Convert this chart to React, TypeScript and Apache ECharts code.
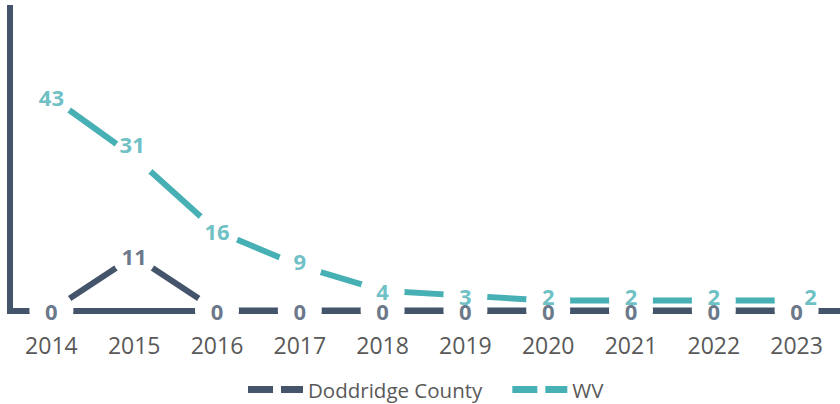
import React, { useEffect, useRef } from "react";
import * as echarts from "echarts";

const years = ["2014", "2015", "2016", "2017", "2018", "2019", "2020", "2021", "2022", "2023"];
const doddridge = [0, 11, 0, 0, 0, 0, 0, 0, 0, 0];
const wv = [43, 31, 16, 9, 4, 3, 2, 2, 2, 2];
const seriesNames = ["Doddridge County", "WV"];

// label nudges (pixels), as in the reference
const wvLabelOffsets = [[0, 0], [-2, -13], [0, 0], [0, -5], [0, 0], [0, 0], [0, -5], [0, -5], [0, -5], [14, -5]];
const ddLabelOffsets = [[0, 0], [0, 0], [0, 0], [0, 0], [0, 0], [0, 0], [0, 0], [0, 0], [0, 0], [0, 0]];

const DARK = "#44546A";
const TEAL = "#47B0B5";
const GREY = "#595959";
const FONT = "'Open Sans', 'Noto Sans', sans-serif";

function lineSeries(name: string, data: number[], color: string) {
  return {
    name,
    type: "line",
    data,
    z: 2,
    color,
    symbol: "circle",
    symbolSize: 44,
    showSymbol: true,
    itemStyle: { color: "#ffffff", borderWidth: 0 },
    lineStyle: { color, width: 6 },
    label: { show: false },
    emphasis: { disabled: true },
    silent: true,
  };
}

function labelSeries(name: string, data: number[], color: string, offsets: number[][]) {
  return {
    name,
    type: "scatter",
    z: 10,
    symbol: "circle",
    symbolSize: 1,
    itemStyle: { color: "rgba(0,0,0,0)" },
    silent: true,
    data: data.map((v, i) => ({
      value: v,
      label: { offset: offsets[i] },
    })),
    label: {
      show: true,
      position: "inside",
      color,
      fontFamily: FONT,
      fontWeight: "bold",
      fontSize: 22,
      lineHeight: 14,
      formatter: (p: any) => String(p.value),
    },
  };
}

export default function App() {
  const ref = useRef<HTMLDivElement>(null);
  useEffect(() => {
    if (!ref.current) return;
    const chart = echarts.init(ref.current, null, { renderer: "svg" });
    chart.setOption({
      animation: false,
      backgroundColor: "#ffffff",
      grid: { left: 10, right: 2, top: 8, bottom: 93.5, containLabel: false },
      legend: {
        left: 248,
        top: 379,
        padding: 0,
        itemWidth: 55,
        itemHeight: 7,
        itemGap: 30,
        icon: "path://M0,0H25V7H0Z M33,0H55V7H33Z",
        textStyle: { color: GREY, fontFamily: FONT, fontSize: 20.5 },
        data: [
          { name: seriesNames[0], itemStyle: { color: DARK, borderWidth: 0 } },
          { name: seriesNames[1], itemStyle: { color: TEAL, borderWidth: 0 } },
        ],
        selectedMode: false,
      },
      xAxis: {
        type: "category",
        data: years,
        boundaryGap: true,
        axisLine: { show: true, lineStyle: { color: DARK, width: 6, cap: "square" } },
        axisTick: { show: false },
        axisLabel: { color: GREY, fontFamily: FONT, fontSize: 23, margin: 23 },
        splitLine: { show: false },
      },
      yAxis: {
        type: "value",
        min: 0,
        max: 61,
        axisLine: { show: true, lineStyle: { color: DARK, width: 6, cap: "square" } },
        axisTick: { show: false },
        axisLabel: { show: false },
        splitLine: { show: false },
      },
      series: [
        lineSeries(seriesNames[0], doddridge, DARK),
        lineSeries(seriesNames[1], wv, TEAL),
        labelSeries("dd-labels", doddridge, DARK, ddLabelOffsets),
        labelSeries("wv-labels", wv, TEAL, wvLabelOffsets),
      ],
    });
    return () => chart.dispose();
  }, []);
  return (
    <div
      ref={ref}
      style={{ position: "fixed", left: 0, top: 0, width: 840, height: 404 }}
    />
  );
}
